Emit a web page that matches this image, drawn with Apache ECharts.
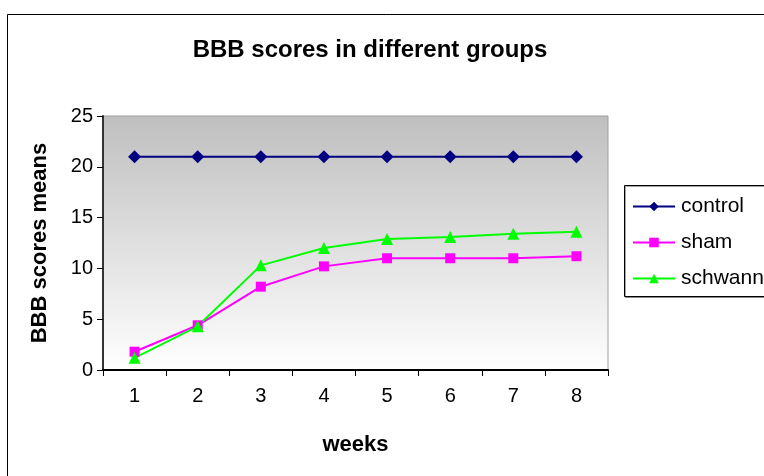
<!DOCTYPE html>
<html>
<head>
<meta charset="utf-8">
<script src="https://cdn.jsdelivr.net/npm/echarts@6/dist/echarts.min.js"></script>
<style>html,body{margin:0;padding:0;background:#fff;}#c{width:764px;height:476px;}</style>
</head>
<body>
<div id="c"></div>
<script>
const weeks = ['1','2','3','4','5','6','7','8'];
const control = [21,21,21,21,21,21,21,21];
const sham = [1.8,4.4,8.2,10.2,11.0,11.0,11.0,11.2];
const schwann = [1.2,4.3,10.3,12.0,12.9,13.1,13.4,13.6];

const chart = echarts.init(document.getElementById('c'));
const FONT = '"Liberation Sans", Arial, sans-serif';
chart.setOption({
  animation: false,
  backgroundColor: '#fff',
  title: {
    text: 'BBB scores in different groups',
    left: 365, top: 33, textAlign: 'center',
    textStyle: {fontFamily: FONT, fontSize: 24, fontWeight: 'bold', color: '#000'}
  },
  graphic: [
    {type: 'rect', left: 5, top: 12, shape: {x:0,y:0,width: 800, height: 500}, style: {fill: 'none', stroke: '#000', lineWidth: 1}, z: -1},
    {type: 'rect', left: 624, top: 185, shape: {x:0,y:0,width: 160, height: 111}, style: {fill: '#fff', stroke: '#000', lineWidth: 1, shadowColor: 'rgba(0,0,0,0.35)', shadowOffsetX: 1, shadowOffsetY: 1}, z: 1}
  ],
  legend: {
    orient: 'vertical', left: 632, top: 196, padding: 0, itemGap: 15, itemWidth: 42, itemHeight: 12,
    textStyle: {fontFamily: FONT, fontSize: 21, color: '#000', padding: [0,0,0,1]},
    z: 5
  },
  grid: {
    left: 103, right: 156, top: 116, bottom: 106,
    show: true, borderColor: '#a0a0a0', borderWidth: 1,
    backgroundColor: {type: 'linear', x:0, y:0, x2:0, y2:1, colorStops: [{offset:0, color:'#bfbfbf'},{offset:1, color:'#ffffff'}]}
  },
  xAxis: {
    type: 'category', data: weeks, boundaryGap: true,
    name: 'weeks', nameLocation: 'middle', nameGap: 64,
    nameTextStyle: {fontFamily: FONT, fontSize: 22, fontWeight: 'bold', color: '#000'},
    axisLine: {lineStyle: {color: '#000', width: 2}},
    axisTick: {show: true, length: 6, lineStyle: {color: '#000'}},
    axisLabel: {fontFamily: FONT, fontSize: 20, color: '#000', margin: 16},
    splitLine: {show: false}
  },
  yAxis: {
    type: 'value', min: 0, max: 25, interval: 5,
    name: 'BBB scores means', nameLocation: 'middle', nameGap: 52,
    nameTextStyle: {fontFamily: FONT, fontSize: 22, fontWeight: 'bold', color: '#000'},
    axisLine: {show: true, lineStyle: {color: '#333', width: 2}},
    axisTick: {show: true, length: 6, lineStyle: {color: '#000'}},
    axisLabel: {fontFamily: FONT, fontSize: 20, color: '#000', margin: 10},
    splitLine: {show: false}
  },
  series: [
    {name: 'control', type: 'line', data: control, symbol: 'diamond', symbolSize: 13,
     itemStyle: {color: '#000080'}, lineStyle: {color: '#000080', width: 2}},
    {name: 'sham', type: 'line', data: sham, symbol: 'rect', symbolSize: 10,
     itemStyle: {color: '#ff00ff'}, lineStyle: {color: '#ff00ff', width: 2}},
    {name: 'schwann', type: 'line', data: schwann, symbol: 'triangle', symbolSize: 12,
     itemStyle: {color: '#00ff00'}, lineStyle: {color: '#00ff00', width: 2}}
  ]
});
</script>
</body>
</html>
